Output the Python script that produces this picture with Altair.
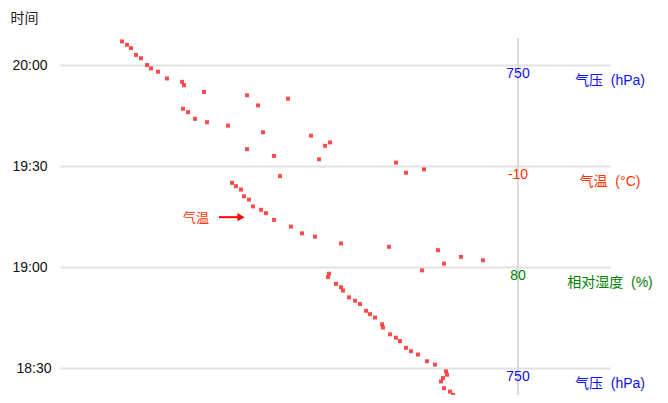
import altair as alt
import pandas as pd

# ---- sounding points (time of observation, horizontal position on the skewed axis) ----
times = [
    "20:07", "20:06", "20:05", "20:03", "20:02", "20:00", "19:59", "19:58", "19:56",
    "19:55", "19:54", "19:52", "19:51", "19:48", "19:50", "19:47", "19:46", "19:44",
    "19:43", "19:42", "19:40", "19:39", "19:36", "19:37", "19:35", "19:33", "19:32",
    "19:31", "19:28", "19:29", "19:27", "19:25", "19:24", "19:23", "19:21", "19:20",
    "19:18", "19:17", "19:16", "19:14", "19:12", "19:10", "19:09", "19:07", "19:06",
    "19:05", "19:01", "19:03", "19:02", "18:59", "18:58", "18:57", "18:55", "18:54",
    "18:53", "18:51", "18:50", "18:49", "18:47", "18:46", "18:45", "18:43", "18:42",
    "18:40", "18:39", "18:38", "18:36", "18:35", "18:34", "18:32", "18:31", "18:29",
    "18:28", "18:27", "18:26", "18:24", "18:23", "18:22",
]
xpos = [
    62, 67, 71, 76, 81, 87, 91, 98, 107,
    122, 124, 144, 187, 198, 228, 123, 128, 135,
    147, 168, 203, 251, 265, 270, 187, 214, 259,
    336, 346, 364, 220, 172, 176, 181, 184, 189,
    193, 201, 206, 214, 231, 242, 255, 281, 329,
    378, 384, 401, 423, 362, 269, 268, 276, 281,
    283, 289, 295, 300, 306, 310, 315, 322, 323,
    330, 336, 340, 346, 351, 358, 367, 375, 386,
    387, 383, 381, 384, 390, 393,
]

# ---- reference scale labels (value, unit, colour) at each time grid line ----
ref_times = ["20:00", "19:30", "19:00", "18:30"]
ref_values = ["750", "-10", "80", "750"]
ref_units = ["气压\u00a0 (hPa)", "气温\u00a0 (°C)", "相对湿度\u00a0 (%)", "气压\u00a0 (hPa)"]
ref_colors = ["#1010ee", "#ff3300", "#008000", "#1010ee"]
ref_line_x = [458]

# ---- arrow annotation ----
note_text = ["气温"]
note_time = ["19:15"]
note_x = [136]
arrow_from = [159]
arrow_to = [181]

grid_times = ["18:30", "19:00", "19:30", "20:00"]


def to_min(s):
    h, m = s.split(":")
    return int(h) * 60 + int(m)


pts = pd.DataFrame({"t": [to_min(s) for s in times], "x": xpos})
refs = pd.DataFrame({
    "t": [to_min(s) for s in ref_times],
    "v": ref_values,
    "u": ref_units,
    "c": ref_colors,
    "x": ref_line_x * len(ref_times),
    "xr": [550] * len(ref_times),
})
vline = pd.DataFrame({"x": ref_line_x})
note = pd.DataFrame({"t": [to_min(s) - 0.5 for s in note_time], "x": note_x, "txt": note_text})
arrow = pd.DataFrame({"t": [to_min(s) - 0.2 for s in note_time], "x": arrow_from, "x2": arrow_to})

PX_PER_MIN = 101 / 30
H = 357
top_t = 1200 + 27 / PX_PER_MIN
bot_t = top_t - H / PX_PER_MIN

FONT = "Liberation Sans, Noto Sans CJK SC"

xs = alt.Scale(domain=[0, 550], nice=False, zero=False)
ys = alt.Scale(domain=[bot_t, top_t], nice=False, zero=False)

yaxis = alt.Axis(
    values=[to_min(s) for s in grid_times],
    labelExpr="floor(datum.value/60) + ':' + (datum.value % 60 < 10 ? '0' : '') + (datum.value % 60)",
    grid=True, gridColor="#e2e2e2", gridWidth=2,
    domain=False, ticks=False,
    labelFont="Liberation Sans", labelFontSize=14, labelColor="#111",
    labelPadding={"condition": {"test": "datum.value == 1110", "value": 9}, "value": 13},
    title="时间", titleAngle=0, titleAlign="left", titleBaseline="middle",
    titleX=-50, titleY=-20, titleFont="Noto Sans CJK SC", titleFontSize=14,
    titleFontWeight="normal", titleColor="#222",
)

base_y = alt.Y("t:Q", scale=ys, axis=yaxis)

rule = alt.Chart(vline).mark_rule(color="#dadada", strokeWidth=2).encode(
    x=alt.X("x:Q", scale=xs, axis=None)
)

points = alt.Chart(pts).mark_square(size=16, color="#ff2020", opacity=0.8).encode(
    x=alt.X("x:Q", scale=xs, axis=None),
    y=base_y,
)

vals = alt.Chart(refs).mark_text(
    font=FONT, fontSize=14, dy=9, baseline="middle", align="center"
).encode(
    x=alt.X("x:Q", scale=xs, axis=None),
    y=alt.Y("t:Q", scale=ys),
    text="v:N",
    color=alt.Color("c:N", scale=None),
)

units = alt.Chart(refs).mark_text(
    font=FONT, fontSize=14, dy=16, baseline="middle", align="center"
).encode(
    x=alt.X("xr:Q", scale=xs, axis=None),
    y=alt.Y("t:Q", scale=ys),
    text="u:N",
    color=alt.Color("c:N", scale=None),
)

note_lbl = alt.Chart(note).mark_text(
    font="Noto Sans CJK SC", fontSize=13, color="#ff3300", baseline="middle", align="center"
).encode(
    x=alt.X("x:Q", scale=xs, axis=None),
    y=alt.Y("t:Q", scale=ys),
    text="txt:N",
)

arrow_line = alt.Chart(arrow).mark_rule(color="#ff0000", strokeWidth=2).encode(
    x=alt.X("x:Q", scale=xs, axis=None),
    x2="x2:Q",
    y=alt.Y("t:Q", scale=ys),
)

arrow_head = alt.Chart(arrow).mark_point(
    shape="triangle-right", filled=True, color="#ff0000", size=70, opacity=1
).encode(
    x=alt.X("x2:Q", scale=xs, axis=None),
    y=alt.Y("t:Q", scale=ys),
)

chart = alt.layer(rule, points, vals, units, arrow_line, arrow_head, note_lbl).properties(
    width=550,
    height=H,
    padding={"left": 52, "top": 30, "right": 48, "bottom": 0},
    autosize=alt.AutoSizeParams(type="none"),
).configure_view(stroke=None)

chart.save("out.html", embed_options={"renderer": "svg", "actions": False})
